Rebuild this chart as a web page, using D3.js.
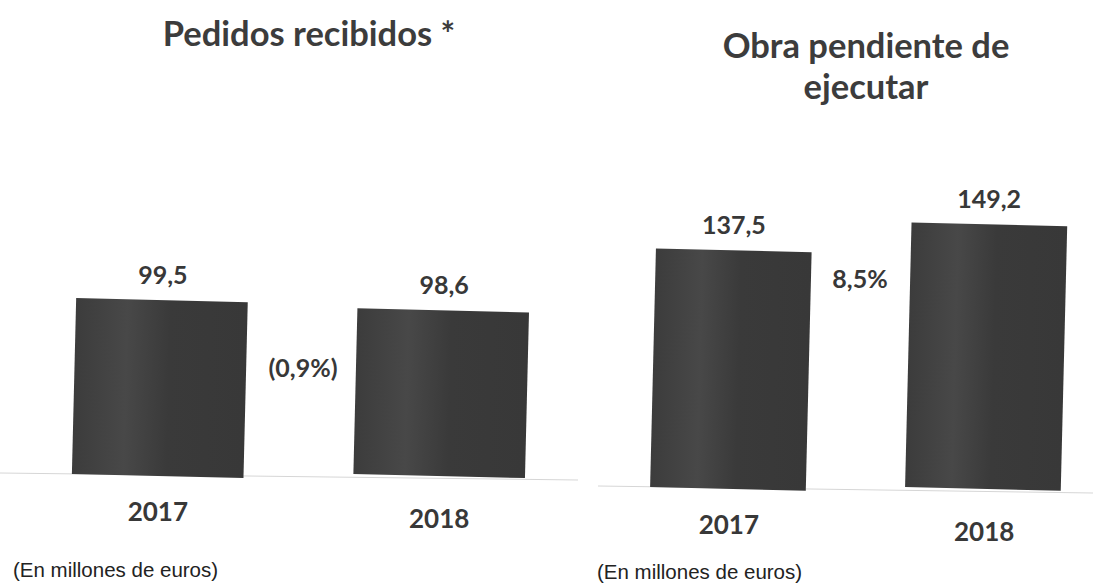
<!DOCTYPE html>
<html>
<head>
<meta charset="utf-8">
<script src="https://cdn.jsdelivr.net/npm/d3@7"></script>
<style>
  body { margin: 0; background: #fff; }
  svg { display: block; }
</style>
</head>
<body>
<script>
// datos (en millones de euros)
const years = ['2017', '2018']
const pedidos = [99.5, 98.6]
const obra = [137.5, 149.2]
const titles = [['Pedidos recibidos *'], ['Obra pendiente de', 'ejecutar']]
const changes = ['(0,9%)', '8,5%']
const footnote = '(En millones de euros)'

const W = 1093, H = 585
const svg = d3.select('body').append('svg').attr('width', W).attr('height', H)

const defs = svg.append('defs')
const grad = defs.append('linearGradient').attr('id', 'barfill')
  .attr('x1', 0).attr('x2', 1).attr('y1', 0).attr('y2', 0)
grad.append('stop').attr('offset', '0%').attr('stop-color', '#3c3c3c')
grad.append('stop').attr('offset', '30%').attr('stop-color', '#484848')
grad.append('stop').attr('offset', '55%').attr('stop-color', '#3a3a3a')
grad.append('stop').attr('offset', '100%').attr('stop-color', '#383838')

const font = 'Lato, Open Sans, sans-serif'

// cada panel tiene su propia escala (el eje no empieza en cero en el original)
const panels = [
  { values: pedidos, title: titles[0], change: changes[0],
    xr: [74, 527], base: 476, yd: [84, 100], px: 11.35, line: [0, 578],
    titleX: 309, titleY: 46, changeX: 303, changeY: 377,
    footX: 13, footY: 577 },
  { values: obra, title: titles[1], change: changes[1],
    xr: [653, 1064], base: 489, yd: [30, 150], px: 2.22, line: [598, 1093],
    titleX: 866, titleY: 58, changeX: 860, changeY: 288,
    footX: 597, footY: 579 }
]

const tilt = 1.4 // el escaneo esta un poco girado

panels.forEach(p => {
  const g = svg.append('g')
  const x = d3.scaleBand().domain(years).range(p.xr).paddingInner(0.39).paddingOuter(0)
  const y = d3.scaleLinear().domain(p.yd)
    .range([p.base, p.base - (p.yd[1] - p.yd[0]) * p.px])

  // linea base tenue
  g.append('line')
    .attr('x1', p.line[0]).attr('x2', p.line[1])
    .attr('y1', p.base - 3).attr('y2', p.base + 4)
    .attr('stroke', '#d6d6d6').attr('stroke-width', 1)

  g.selectAll('rect.bar').data(p.values).join('rect')
    .attr('class', 'bar')
    .attr('x', (d, i) => x(years[i]))
    .attr('y', d => y(d))
    .attr('width', x.bandwidth())
    .attr('height', d => y(p.yd[0]) - y(d))
    .attr('fill', 'url(#barfill)')
    .attr('transform', (d, i) => {
      const cx = x(years[i]) + x.bandwidth() / 2
      const cy = (y(d) + y(p.yd[0])) / 2
      return `rotate(${tilt},${cx},${cy})`
    })

  // valores encima de las barras
  g.selectAll('text.val').data(p.values).join('text')
    .attr('class', 'val')
    .attr('x', (d, i) => x(years[i]) + x.bandwidth() / 2 + 3)
    .attr('y', d => y(d) - 16)
    .attr('text-anchor', 'middle')
    .attr('font-family', font)
    .attr('font-weight', 700)
    .attr('font-size', 25)
    .attr('fill', '#383838')
    .text(d => d3.format('.1f')(d).replace('.', ','))

  // años
  g.selectAll('text.year').data(years).join('text')
    .attr('class', 'year')
    .attr('x', d => x(d) + x.bandwidth() / 2 - 2)
    .attr('y', (d, i) => p.base + 45 + i * 7)
    .attr('text-anchor', 'middle')
    .attr('font-family', font)
    .attr('font-weight', 700)
    .attr('font-size', 26)
    .attr('fill', '#383838')
    .text(d => d)

  // variacion
  g.append('text')
    .attr('x', p.changeX).attr('y', p.changeY)
    .attr('text-anchor', 'middle')
    .attr('font-family', font)
    .attr('font-weight', 700)
    .attr('font-size', 25)
    .attr('fill', '#383838')
    .text(p.change)

  // titulo
  const t = g.append('text')
    .attr('text-anchor', 'middle')
    .attr('font-family', font)
    .attr('font-weight', 700)
    .attr('font-size', 34.5)
    .attr('fill', '#3c3c3c')
  p.title.forEach((line, i) => {
    t.append('tspan').attr('x', p.titleX).attr('y', p.titleY + i * 41).text(line)
  })

  // nota
  g.append('text')
    .attr('x', p.footX).attr('y', p.footY)
    .attr('font-family', 'Liberation Sans, Arial, sans-serif')
    .attr('font-size', 20.5)
    .attr('fill', '#222')
    .text(footnote)
})
</script>
</body>
</html>
